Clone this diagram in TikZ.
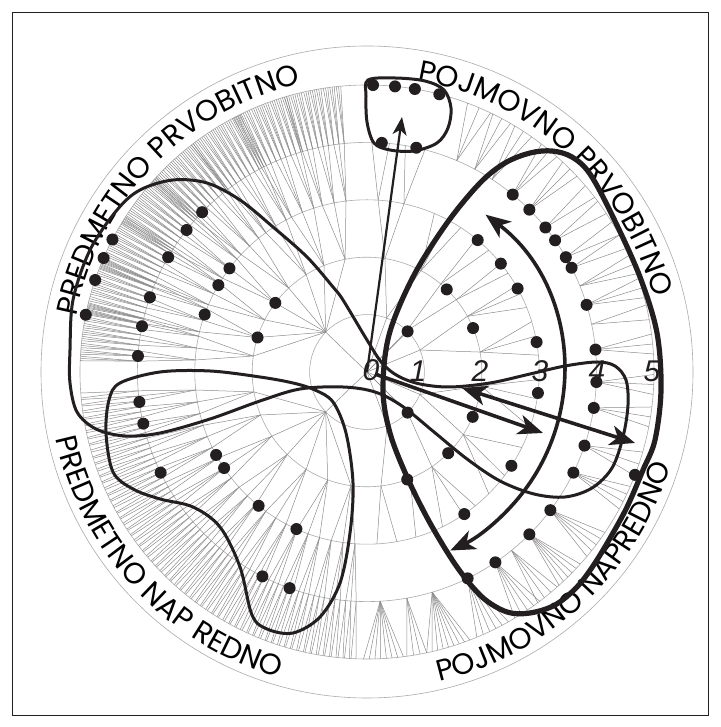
\documentclass[tikz,border=0pt]{standalone}
\usepackage{fontspec}
\setmainfont{Liberation Sans}
\newfontfamily\labfont{Poppins}
\usetikzlibrary{arrows.meta,decorations.text}
\definecolor{ink}{HTML}{231F20}
\definecolor{treegray}{HTML}{8C8C8C}
\definecolor{ringgray}{HTML}{ABABAB}
\newcommand\labsize{\labfont\fontsize{29.5}{32}\selectfont}
\begin{document}
\begin{tikzpicture}[x=1pt,y=1pt,
  treeline/.style={draw=treegray, line width=0.5pt},
  ringline/.style={draw=ringgray, line width=0.6pt},
  blob/.style={draw=ink, line width=3pt},
  bigblob/.style={draw=ink, line width=5.2pt},
  dot/.style={circle, fill=ink, inner sep=0pt, minimum size=12pt},
  numlab/.style={font=\fontsize{30}{30}\selectfont\itshape, text=ink, inner sep=0pt},
  thinarrow/.style={draw=ink, line width=2.2pt, -{Stealth[length=18pt,width=14pt,inset=5pt]}},
  fatarrow/.style={draw=ink, line width=3.6pt, -{Stealth[length=25pt,width=20pt,inset=7pt]}},
  dblarrow/.style={draw=ink, line width=3.6pt, {Stealth[length=25pt,width=20pt,inset=7pt]}-{Stealth[length=25pt,width=20pt,inset=7pt]}},
  arclabel/.style={decorate, decoration={text along path, text align=center, text={#1}}}
]
\useasboundingbox (0,0) rectangle (720,727);
\draw[ink, line width=0.8pt] (12,12) rectangle (708,715);

\begin{scope}[shift={(367,355)}]
% rings
\foreach \r in {57.4,114.8,172.2,229.6,287,326} \draw[ringline] (0,0) circle (\r);
% root edges
\foreach \a in {136,224,45,-45} \draw[treeline] (0,0) -- (\a:57.4);
% upper-left dense subtree
\foreach \a in {101,112,122,133,143,153,162.5,172} {
  \draw[treeline] (136:57.4) -- (\a:114.8);
  \foreach \o in {-4,0,4} {
    \pgfmathsetmacro\b{\a+\o}
    \draw[treeline] (\a:114.8) -- (\b:172.2);
    \foreach \p in {-1.3,0,1.3} {
      \pgfmathsetmacro\c{\b+\p}
      \draw[treeline] (\b:172.2) -- (\c:229.6);
      \foreach \q in {-0.45,0,0.45} {
        \pgfmathsetmacro\d{\c+\q}
        \draw[treeline] (\c:229.6) -- (\d:287);
      }
    }
  }
}
% lower-left subtree
\foreach \a in {190,202,214,226,238,250,262} {
  \draw[treeline] (224:57.4) -- (\a:114.8);
  \foreach \o in {-4,0,4} {
    \pgfmathsetmacro\b{\a+\o}
    \draw[treeline] (\a:114.8) -- (\b:172.2);
    \foreach \p in {-1.3,0,1.3} {
      \pgfmathsetmacro\c{\b+\p}
      \draw[treeline] (\b:172.2) -- (\c:229.6);
      \foreach \q in {-0.5,0.5} {
        \pgfmathsetmacro\d{\c+\q}
        \draw[treeline] (\c:229.6) -- (\d:287);
      }
    }
  }
}
% right side sparse subtree
\foreach \k/\a/\b in {1/45/22.5,1/45/46,1/45/70,
  2/22.5/10,2/22.5/29,2/46/39,2/46/50,2/70/62,2/70/81,
  3/10/5.6,3/10/12,3/10/17,3/29/22,3/29/27,3/29/30,3/39/35,3/39/39,3/50/45,3/50/50.6,
  3/62/57,3/62/62,3/62/67,3/81/77.6,3/81/86.3,
  4/86.3/84.4,4/86.3/88.8,4/77.6/75.4,4/77.6/80.4,
  1/-45/-23,1/-45/-45,1/-45/-69.5,
  2/-23/-7,2/-23/-33,2/-45/-55.6,2/-69.5/-68,2/-69.5/-83,
  3/-7/-2.5,3/-7/-9,3/-7/-18.7,3/-33/-26,3/-33/-37,3/-33/-45,
  3/-55.6/-51,3/-55.6/-56,3/-55.6/-64,3/-68/-73.5,3/-83/-80,3/-83/-86.7}
  \draw[treeline] (\a:{(\k-1)*57.4}) -- (\b:{\k*57.4});
% ring 4 -> ring 5 fans
\foreach \a/\n/\w in {67/3/5,62/3/4,57/3/4,50.6/3/4,45/3/4,39/2/3,35/2/3,30/2/3,27/2/3,
  22/3/4,17/3/4,12/2/3,5.6/3/4,-2.5/3/4,-9/3/4,-18.7/3/5,-26/4/5,-37/5/6,-45/6/6,
  -51/4/5,-56/5/6,-64/6/7,-73.5/9/9,-80/4/4,-86.7/8/8} {
  \foreach \j in {1,...,\n} {
    \pgfmathsetmacro\b{\a-\w/2+\w*(\j-1)/(\n-1)}
    \draw[treeline] (\a:229.6) -- (\b:287);
  }
}
% arc labels
\path[arclabel={|\labsize|PREDMETNO PRVOBITNO}] (176:296) arc[start angle=176, end angle=96, radius=296];
\path[arclabel={|\labsize|POJMOVNO PRVOBITNO}] (87.4:296) arc[start angle=87.4, end angle=7.4, radius=296];
\path[arclabel={|\labsize|PREDMETNO NAP REDNO}] (183:318) arc[start angle=183, end angle=263, radius=318];
\path[arclabel={|\labsize|POJMOVNO NAPREDNO}] (-87:318) arc[start angle=-87, end angle=-7, radius=318];
\end{scope}

% blobs (pixel coordinates)
\begin{scope}[shift={(0,727)}, yscale=-1]
\draw[blob] plot[smooth cycle, tension=0.55] coordinates {(368,80) (395,78) (425,81) (444,90) (451,108) (448,128) (437,143) (414,151) (390,150) (374,143) (367,122) (366,96)};
\draw[blob] plot[smooth cycle, tension=0.55] coordinates {(343,300) (367,340) (382,363) (398,376) (420,384) (450,387) (490,383) (530,374) (565,366) (597,362) (615,366) (626,380) (628,405) (623,437) (612,468) (592,488) (565,497) (534,494) (500,481) (467,459) (434,432) (402,406) (375,392) (343,387) (300,389) (260,401) (210,419) (160,433) (125,436) (96,429) (77,412) (70,383) (70,350) (73,300) (90,250) (117,210) (140,190) (173,180) (207,183) (240,200) (273,227) (307,257) (333,287)};
\draw[blob] plot[smooth cycle, tension=0.55] coordinates {(120,383) (160,372) (210,371) (260,377) (293,383) (315,390) (333,402) (346,433) (353,483) (350,533) (340,583) (320,617) (293,633) (267,629) (252,615) (240,567) (220,527) (193,507) (160,499) (133,489) (113,472) (106,433) (109,400)};
\draw[bigblob] plot[smooth cycle, tension=0.55] coordinates {(530,153) (552,151) (572,157) (590,174) (613,217) (640,277) (657,333) (661,390) (655,440) (643,470) (628,505) (613,533) (595,563) (577,587) (555,605) (530,613) (507,612) (482,597) (457,567) (430,523) (407,477) (390,433) (383,390) (389,335) (413,277) (447,223) (480,183) (505,163)};
\end{scope}

\begin{scope}[shift={(367,355)}]
% arrows
\coordinate (o) at (0,0);
\coordinate (topTip) at (35,255);
\coordinate (fatStart) at (8,-2);
\coordinate (fatTip) at (176,-61);
\coordinate (dblA) at (95,-16);
\coordinate (dblB) at (268,-71);
\coordinate (arcA) at (53:197);
\draw[thinarrow] (o) -- (topTip);
\draw[fatarrow] (fatStart) -- (fatTip);
\draw[dblarrow] (dblA) -- (dblB);
\draw[dblarrow] (arcA) arc[start angle=53, end angle=-65, radius=197];
% dots
\foreach \k/\a [count=\i] in {5/88.8,5/84.4,5/80.4,5/75.4,4/86.3,4/77.6,
  4/135.9,4/141.8,5/152.5,5/156.6,4/150,3/143,5/161.3,4/161,3/149.7,2/143,5/168.5,4/168.5,3/160.5,2/162.5,4/176,4/187.5,4/193,
  4/206,3/208.8,3/213.9,3/231,3/245.8,4/242.9,4/250.3,
  4/50.6,4/45,4/39,4/35,4/30,4/27,4/17,4/5.6,3/50,3/39,3/29,2/46,1/45,2/22.5,3/10,3/-7,4/-2.5,4/-9,1/-45,2/-23,4/-18.7,
  4/-26,5/-21,2/-45,3/-33,2/-69.5,4/-37,3/-55.6,4/-45,4/-56,4/-64}
  \node[dot] (d\i) at (\a:{\k*57.4}) {};
% ring numbers
\node[numlab] (n0) at (4,2) {0};
\node[numlab] (n1) at (51,1) {1};
\node[numlab] (n2) at (113,1) {2};
\node[numlab] (n3) at (173,1) {3};
\node[numlab] (n4) at (230,1) {4};
\node[numlab] (n5) at (285,1) {5};
\end{scope}
\end{tikzpicture}
\end{document}
